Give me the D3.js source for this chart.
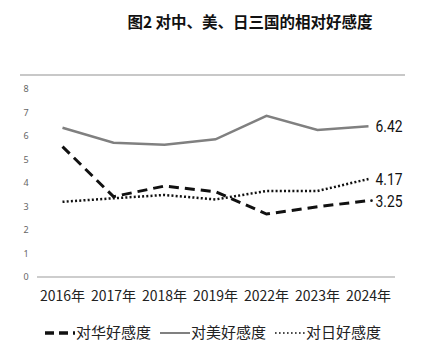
<!DOCTYPE html>
<html><head><meta charset="utf-8">
<script src="https://cdn.jsdelivr.net/npm/d3@7"></script>
<style>body{margin:0;background:#fff}</style>
</head><body>
<svg id="c" width="430" height="357"></svg>
<script>
const years = ["2016年","2017年","2018年","2019年","2022年","2023年","2024年"];
const china = [5.55,3.42,3.87,3.63,2.68,2.99,3.25];
const usa   = [6.35,5.71,5.63,5.86,6.86,6.26,6.42];
const japan = [3.20,3.35,3.49,3.30,3.66,3.66,4.17];
const yTicks = [0,1,2,3,4,5,6,7,8];
const seriesNames = ["对华好感度","对美好感度","对日好感度"];

const svg = d3.select("#c");
const x = d3.scaleBand().domain(years).range([37,394]);
const y = d3.scaleLinear().domain([0,8]).range([277,89]);
const cx = d => x(d) + x.bandwidth()/2;

// title
svg.append("text").attr("x",250).attr("y",28).attr("text-anchor","middle")
  .attr("font-family","Noto Sans CJK SC").attr("font-weight","bold").attr("font-size",15.5)
  .attr("fill","#111").text("图2 对中、美、日三国的相对好感度");

// top border line
svg.append("line").attr("x1",20).attr("x2",405).attr("y1",75).attr("y2",75)
  .attr("stroke","#c8c8c8").attr("stroke-width",2);

// y axis labels
const yAxis = d3.axisLeft(y).tickValues(yTicks).tickSize(0).tickPadding(0);
const ga = svg.append("g").attr("transform","translate(26,0)").call(yAxis);
ga.select(".domain").remove();
ga.selectAll("text").attr("font-family","Noto Sans").attr("font-size",9).attr("fill","#666")
  .attr("text-anchor","middle");

// baseline
svg.append("line").attr("x1",37).attr("x2",395).attr("y1",y(0)).attr("y2",y(0))
  .attr("stroke","#bdbdbd").attr("stroke-width",1.5);

// x axis labels
const xAxis = d3.axisBottom(x).tickSize(0).tickPadding(0);
const gx = svg.append("g").attr("transform","translate(0,296)").call(xAxis);
gx.select(".domain").remove();
gx.selectAll("text").attr("font-family","Noto Sans CJK SC").attr("font-size",14).attr("fill","#222")
  .attr("dy","0.35em");

const line = d3.line().x((d,i)=>cx(years[i])).y(d=>y(d));
const styles = [
  {data:china, stroke:"#111", w:3, dash:"10,6"},
  {data:usa, stroke:"#808080", w:2.5, dash:null},
  {data:japan, stroke:"#111", w:2.5, dash:"2,2.2"}
];
styles.forEach(s=>{
  svg.append("path").attr("d",line(s.data)).attr("fill","none")
    .attr("stroke",s.stroke).attr("stroke-width",s.w)
    .attr("stroke-dasharray",s.dash);
});

// end labels
const last = years.length-1;
[usa,japan,china].forEach(arr=>{
  svg.append("text").attr("x",cx(years[last])+7).attr("y",y(arr[last]))
    .attr("dy","0.36em").attr("font-family","Roboto").attr("font-weight",400).attr("font-size",16.5)
    .attr("textLength",27).attr("lengthAdjust","spacingAndGlyphs")
    .attr("fill","#111").text(arr[last].toFixed(2));
});
// small dot before 3.25
svg.append("circle").attr("cx",cx(years[last])+3).attr("cy",y(china[last])).attr("r",1.3).attr("fill","#111");

// legend
const legY = 333;
const leg = [
  {x1:45,x2:75,tx:76,stroke:"#111",w:3.5,dash:"9,5"},
  {x1:160,x2:190,tx:191,stroke:"#808080",w:2,dash:null},
  {x1:275,x2:305,tx:306,stroke:"#111",w:1.6,dash:"1.6,2.4"}
];
leg.forEach((l,i)=>{
  svg.append("line").attr("x1",l.x1).attr("x2",l.x2).attr("y1",legY).attr("y2",legY)
    .attr("stroke",l.stroke).attr("stroke-width",l.w).attr("stroke-dasharray",l.dash);
  svg.append("text").attr("x",l.tx).attr("y",legY).attr("dy","0.35em")
    .attr("font-family","Noto Sans CJK SC").attr("font-size",15).attr("fill","#222")
    .text(seriesNames[i]);
});
</script>
</body></html>
